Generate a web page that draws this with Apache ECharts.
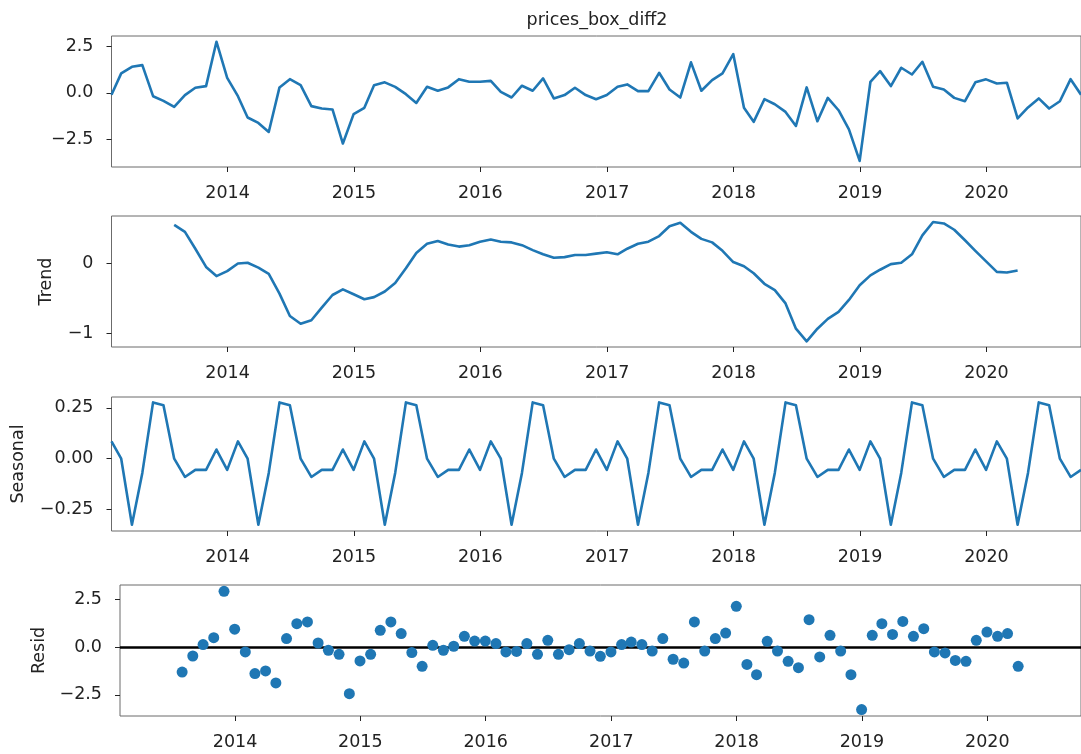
<!DOCTYPE html>
<html>
<head>
<meta charset="utf-8">
<title>prices_box_diff2 decomposition</title>
<script src="https://cdn.jsdelivr.net/npm/echarts@6/dist/echarts.min.js"></script>
<style>
  html, body { margin: 0; padding: 0; background: #fff; }
  #chart { width: 1081px; height: 754px; }
</style>
</head>
<body>
<div id="chart"></div>
<script>
// monthly index, month-end dates (like pandas freq 'M')
const obsStart = [2013, 1];   // observed / seasonal start: 2013-01
const trendStart = [2013, 7]; // trend / resid start: 2013-07
const yearTicks = [2014, 2015, 2016, 2017, 2018, 2019, 2020];

// observed: 2013-01 .. 2020-09
const observed = [
  -0.10, 1.04, 1.39, 1.48, -0.18, -0.43, -0.75, -0.12, 0.27, 0.36, 2.73, 0.80,
  -0.18, -1.32, -1.61, -2.09, 0.29, 0.73, 0.41, -0.71, -0.84, -0.89, -2.71, -1.14,
  -0.80, 0.41, 0.56, 0.32, -0.07, -0.54, 0.32, 0.11, 0.29, 0.73, 0.59, 0.59,
  0.64, 0.05, -0.25, 0.38, 0.11, 0.77, -0.30, -0.12, 0.27, -0.12, -0.34, -0.12,
  0.32, 0.45, 0.09, 0.09, 1.07, 0.18, -0.25, 1.63, 0.11, 0.68, 1.04, 2.07,
  -0.80, -1.55, -0.34, -0.61, -1.02, -1.77, 0.29, -1.52, -0.27, -0.93, -1.95, -3.64,
  0.58, 1.16, 0.36, 1.34, 0.98, 1.66, 0.32, 0.18, -0.27, -0.45, 0.56, 0.72,
  0.50, 0.54, -1.37, -0.78, -0.30, -0.84, -0.45, 0.73, -0.10
];

// trend: 2013-07 .. 2020-03
const trend = [
  0.55, 0.45, 0.21, -0.05, -0.18, -0.11,
  0.00, 0.01, -0.06, -0.15, -0.43, -0.75, -0.86, -0.81, -0.63, -0.45, -0.37, -0.44,
  -0.51, -0.48, -0.40, -0.28, -0.07, 0.15, 0.28, 0.32, 0.27, 0.24, 0.26, 0.31,
  0.34, 0.31, 0.30, 0.26, 0.19, 0.13, 0.08, 0.09, 0.12, 0.12, 0.14, 0.16,
  0.13, 0.21, 0.28, 0.31, 0.39, 0.53, 0.58, 0.45, 0.35, 0.30, 0.18, 0.02,
  -0.04, -0.14, -0.29, -0.38, -0.57, -0.93, -1.11, -0.93, -0.79, -0.69, -0.52, -0.31,
  -0.17, -0.09, -0.01, 0.01, 0.13, 0.40, 0.59, 0.57, 0.48, 0.33, 0.18, 0.03,
  -0.12, -0.13, -0.10
];

// seasonal: 2013-01 .. 2020-09
const seasonal = [
  0.085, 0.0, -0.325, -0.07, 0.277, 0.263, 0.0, -0.09, -0.055, -0.055, 0.045, -0.055,
  0.085, 0.0, -0.325, -0.07, 0.277, 0.263, 0.0, -0.09, -0.055, -0.055, 0.045, -0.055,
  0.085, 0.0, -0.325, -0.07, 0.277, 0.263, 0.0, -0.09, -0.055, -0.055, 0.045, -0.055,
  0.085, 0.0, -0.325, -0.07, 0.277, 0.263, 0.0, -0.09, -0.055, -0.055, 0.045, -0.055,
  0.085, 0.0, -0.325, -0.07, 0.277, 0.263, 0.0, -0.09, -0.055, -0.055, 0.045, -0.055,
  0.085, 0.0, -0.325, -0.07, 0.277, 0.263, 0.0, -0.09, -0.055, -0.055, 0.045, -0.055,
  0.085, 0.0, -0.325, -0.07, 0.277, 0.263, 0.0, -0.09, -0.055, -0.055, 0.045, -0.055,
  0.085, 0.0, -0.325, -0.07, 0.277, 0.263, 0.0, -0.09, -0.055
];

// resid: 2013-07 .. 2020-03
const resid = [
  -1.31, -0.47, 0.13, 0.49, 2.91, 0.93,
  -0.26, -1.39, -1.25, -1.88, 0.44, 1.22, 1.31, 0.21, -0.17, -0.38, -2.44, -0.73,
  -0.38, 0.87, 1.31, 0.70, -0.29, -1.01, 0.09, -0.17, 0.04, 0.56, 0.31, 0.31,
  0.18, -0.26, -0.23, 0.18, -0.38, 0.35, -0.38, -0.14, 0.18, -0.21, -0.49, -0.26,
  0.13, 0.26, 0.13, -0.21, 0.44, -0.64, -0.84, 1.31, -0.21, 0.44, 0.73, 2.13,
  -0.91, -1.45, 0.30, -0.21, -0.75, -1.08, 1.43, -0.52, 0.61, -0.21, -1.45, -3.27,
  0.61, 1.22, 0.66, 1.34, 0.56, 0.96, -0.26, -0.31, -0.70, -0.75, 0.35, 0.78,
  0.56, 0.70, -1.01
];

const obsTicks = [-2.5, 0, 2.5];
const trendTicks = [-1, 0];
const seasonalTicks = [-0.25, 0, 0.25];
const residTicks = [-2.5, 0, 2.5];

function monthEnd(y, m) {
  return Date.UTC(y, m, 0);
}
function pairs(start, values) {
  return values.map(function (v, i) {
    return [monthEnd(start[0], start[1] + i), v];
  });
}
function minus(s) {
  return s.replace('-', '\u2212');
}

const FONT = 'DejaVu Sans';
const TXT = '#222';
const BLUE = '#1f77b4';
const xMin = monthEnd(2013, 1);
const xMax = monthEnd(2020, 9);
const yearValues = yearTicks.map(function (y) { return Date.UTC(y, 0, 1); });

const grids = [
  { left: 111.5, top: 36, width: 974.5, height: 131 },
  { left: 111.5, top: 216, width: 974.5, height: 131 },
  { left: 111.5, top: 397, width: 974.5, height: 134 },
  { left: 120, top: 585, width: 970, height: 131 }
];

function xAxis(i) {
  return {
    type: 'value',
    gridIndex: i,
    min: xMin,
    max: xMax,
    splitLine: { show: false },
    axisLine: { show: false, onZero: false },
    axisTick: { show: true, length: 5, customValues: yearValues, lineStyle: { color: TXT, width: 1 } },
    axisLabel: {
      customValues: yearValues,
      margin: 17,
      color: TXT,
      fontFamily: FONT,
      fontSize: 17.5,
      formatter: function (v) { return String(new Date(v).getUTCFullYear()); }
    }
  };
}

function yAxis(i, min, max, ticks, digits, name, gap) {
  return {
    type: 'value',
    gridIndex: i,
    min: min,
    max: max,
    name: name,
    nameLocation: 'middle',
    nameGap: gap,
    nameTextStyle: { color: TXT, fontFamily: FONT, fontSize: 17.5 },
    splitLine: { show: false },
    axisLine: { show: false, onZero: false },
    axisTick: { show: true, length: 5, customValues: ticks, lineStyle: { color: TXT, width: 1 } },
    axisLabel: {
      customValues: ticks,
      margin: 18,
      color: TXT,
      fontFamily: FONT,
      fontSize: 17.5,
      formatter: function (v) { return minus(v.toFixed(digits)); }
    }
  };
}

const chart = echarts.init(document.getElementById('chart'), null, { renderer: 'canvas' });
chart.setOption({
  animation: false,
  backgroundColor: '#fff',
  title: {
    text: 'prices_box_diff2',
    left: 592,
    top: 6,
    textAlign: 'center',
    textStyle: { color: TXT, fontFamily: FONT, fontSize: 17.5, fontWeight: 'normal' }
  },
  grid: grids.map(function (g) {
    return Object.assign({ show: true, borderColor: '#6b6b6b', borderWidth: 1, backgroundColor: 'transparent' }, g);
  }),
  xAxis: [xAxis(0), xAxis(1), xAxis(2), xAxis(3)],
  yAxis: [
    yAxis(0, -3.964, 3.037, obsTicks, 1, '', 0),
    yAxis(1, -1.191, 0.676, trendTicks, 0, 'Trend', 56),
    yAxis(2, -0.356, 0.3035, seasonalTicks, 2, 'Seasonal', 84),
    yAxis(3, -3.609, 3.243, residTicks, 1, 'Resid', 71)
  ],
  series: [
    {
      type: 'line', xAxisIndex: 0, yAxisIndex: 0, data: pairs(obsStart, observed),
      showSymbol: false, lineStyle: { color: BLUE, width: 2.6, join: 'round' }
    },
    {
      type: 'line', xAxisIndex: 1, yAxisIndex: 1, data: pairs(trendStart, trend),
      showSymbol: false, lineStyle: { color: BLUE, width: 2.6, join: 'round' }
    },
    {
      type: 'line', xAxisIndex: 2, yAxisIndex: 2, data: pairs(obsStart, seasonal),
      showSymbol: false, lineStyle: { color: BLUE, width: 2.6, join: 'round' }
    },
    {
      type: 'scatter', xAxisIndex: 3, yAxisIndex: 3, data: pairs(trendStart, resid),
      symbolSize: 11, z: 10,
      itemStyle: { color: BLUE, opacity: 1 },
      markLine: {
        silent: true,
        symbol: ['none', 'none'],
        label: { show: false },
        lineStyle: { color: '#000', width: 2.6, type: 'solid' },
        data: [{ yAxis: 0 }]
      }
    }
  ]
});
</script>
</body>
</html>
